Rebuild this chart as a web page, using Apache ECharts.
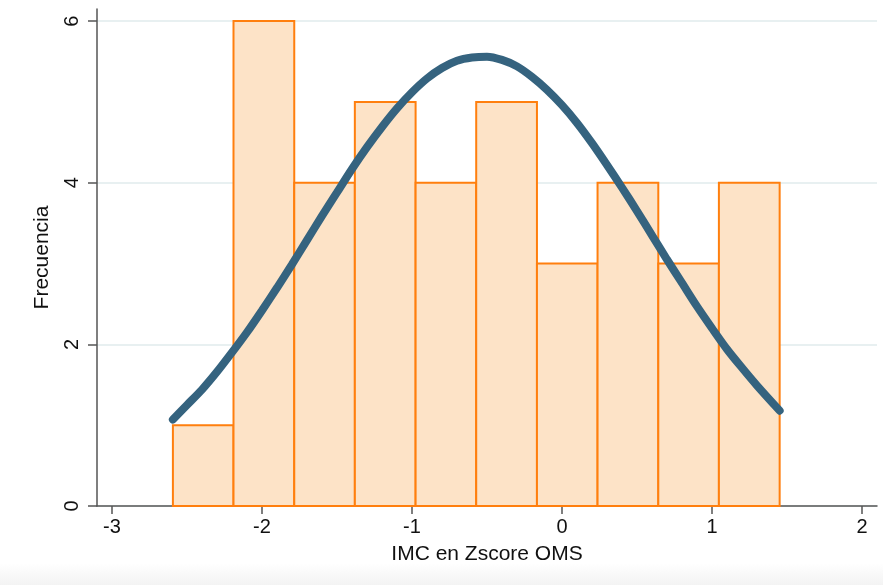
<!DOCTYPE html>
<html>
<head>
<meta charset="utf-8">
<script src="https://cdn.jsdelivr.net/npm/echarts@6/dist/echarts.min.js"></script>
<style>
  html, body { margin: 0; padding: 0; background: #fff; }
  #chart { width: 883px; height: 585px; }
</style>
</head>
<body>
<div id="chart"></div>
<script>
// histograma: bordes de los intervalos y frecuencias
var binEdges = [-2.594, -2.19, -1.785, -1.381, -0.976, -0.572, -0.167, 0.237, 0.642, 1.046, 1.451];
var counts = [1, 6, 4, 5, 4, 5, 3, 4, 3, 4];

// curva normal
var curveX = [-2.594, -2.5, -2.4, -2.3, -2.2, -2.1, -2.0, -1.9, -1.8, -1.7, -1.6, -1.5, -1.4, -1.3, -1.2, -1.1, -1.0, -0.9, -0.8, -0.7, -0.6, -0.5, -0.4, -0.3, -0.2, -0.1, 0, 0.1, 0.2, 0.3, 0.4, 0.5, 0.6, 0.7, 0.8, 0.9, 1.0, 1.1, 1.2, 1.3, 1.451];
var curveY = [1.07, 1.25, 1.44, 1.66, 1.90, 2.15, 2.42, 2.70, 2.99, 3.29, 3.59, 3.88, 4.17, 4.44, 4.69, 4.92, 5.12, 5.29, 5.42, 5.51, 5.55, 5.56, 5.52, 5.44, 5.31, 5.15, 4.96, 4.74, 4.49, 4.22, 3.94, 3.65, 3.35, 3.05, 2.76, 2.47, 2.20, 1.94, 1.71, 1.49, 1.18];

var xTicks = [-3, -2, -1, 0, 1, 2];
var yTicks = [0, 2, 4, 6];

var axisColor = "#555";
var fontFamily = "Liberation Sans, Arial, sans-serif";
var tickFont = { fontSize: 20, color: "#111", fontFamily: fontFamily };
var nameFont = { fontSize: 21, color: "#111", fontFamily: fontFamily };

var barData = [];
for (var i = 0; i < counts.length; i++) {
  barData.push([binEdges[i], binEdges[i + 1], counts[i]]);
}
var lineData = [];
for (var j = 0; j < curveX.length; j++) {
  lineData.push([curveX[j], curveY[j]]);
}

var myChart = echarts.init(document.getElementById("chart"));
var option = {
  backgroundColor: "#fff",
  animation: false,
  grid: { left: 97, right: 6, top: 9, bottom: 79 },
  xAxis: {
    type: "value",
    min: -3.1,
    max: 2.1,
    name: "IMC en Zscore OMS",
    nameLocation: "middle",
    nameGap: 38,
    nameTextStyle: nameFont,
    axisLine: { show: true, onZero: false, lineStyle: { color: axisColor, width: 1.5 } },
    axisTick: { show: true, length: 8, customValues: xTicks, lineStyle: { color: axisColor, width: 1.5 } },
    axisLabel: Object.assign({ customValues: xTicks, margin: 11 }, tickFont),
    splitLine: { show: false }
  },
  yAxis: {
    type: "value",
    min: 0,
    max: 6.15,
    name: "Frecuencia",
    nameLocation: "middle",
    nameRotate: 90,
    nameGap: 44,
    nameTextStyle: nameFont,
    axisLine: { show: true, onZero: false, lineStyle: { color: axisColor, width: 1.5 } },
    axisTick: { show: true, length: 9, customValues: yTicks, lineStyle: { color: axisColor, width: 1.5 } },
    axisLabel: Object.assign({ customValues: yTicks, rotate: 90, margin: 15 }, tickFont),
    splitLine: { show: true, lineStyle: { color: "#e8f0f1", width: 2 } }
  },
  series: [
    {
      type: "custom",
      data: barData,
      renderItem: function(params, api) {
        var p0 = api.coord([api.value(0), api.value(2)]);
        var p1 = api.coord([api.value(1), 0]);
        return {
          type: "rect",
          shape: { x: p0[0], y: p0[1], width: p1[0] - p0[0], height: p1[1] - p0[1] },
          style: { fill: "#fde3c7", stroke: "#ff7f0e", lineWidth: 2 }
        };
      },
      z: 2
    },
    {
      type: "line",
      data: lineData,
      smooth: 0.3,
      showSymbol: false,
      lineStyle: { color: "#35637f", width: 8, cap: "round" },
      z: 3
    }
  ],
  graphic: [
    {
      type: "rect",
      left: 0,
      top: 563,
      shape: { width: 883, height: 22 },
      style: {
        fill: new echarts.graphic.LinearGradient(0, 0, 0, 1, [
          { offset: 0, color: "#ffffff" },
          { offset: 1, color: "#f3f3f3" }
        ])
      },
      silent: true
    }
  ]
};
myChart.setOption(option);
</script>
</body>
</html>
